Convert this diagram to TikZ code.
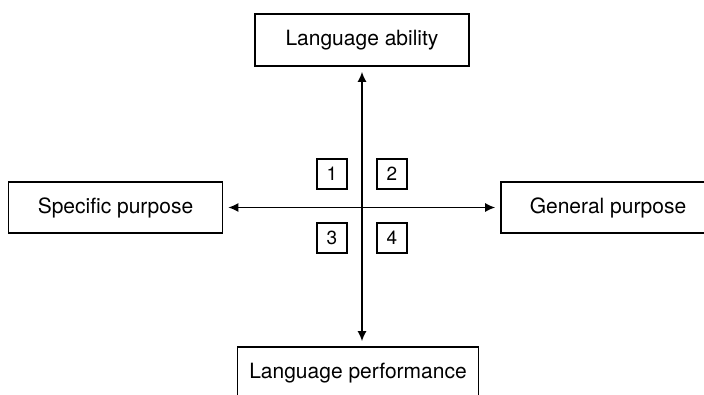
\documentclass[tikz,border=0pt]{standalone}
\usepackage{fontspec}
\setmainfont{TeX Gyre Heros}
\usetikzlibrary{arrows.meta}
\tikzset{
	bigbox/.style={draw, line width=1.6pt, minimum width=214pt, minimum height=52pt, inner sep=0pt, font=\fontsize{21}{25}\selectfont},
	numbox/.style={draw, line width=1.4pt, minimum width=30pt, minimum height=30pt, inner sep=0pt, font=\fontsize{19}{22}\selectfont},
	axis/.style={line width=1.5pt, {Latex[length=10pt,width=9pt]}-{Latex[length=10pt,width=9pt]}, shorten <=5pt, shorten >=5pt}
}

\begin{document}
\begin{tikzpicture}[x=1pt, y=-1pt]
			%%%%% START %%%%%
			\useasboundingbox (0, 0) rectangle (704, 395);
			\clip (0, 0) rectangle (704, 395);
			
			\node[bigbox] (ability) at (362, 40) {Language ability};
			\node[bigbox, minimum width=241pt] (performance) at (358, 373) {Language performance};
			\node[bigbox, minimum height=51pt] (specific) at (115.5, 207.5) {Specific purpose};
			\node[bigbox, minimum height=51pt] (general) at (608, 207.5) {General purpose};
			
			\draw[axis] (specific.east) -- (general.west);
			\draw[axis] (ability.south) -- (ability.south |- performance.north);
			
			\node[numbox] (q1) at (332, 174) {1};
			\node[numbox] (q2) at (392, 174) {2};
			\node[numbox] (q3) at (332, 238) {3};
			\node[numbox] (q4) at (392, 238) {4};
			
			%%%%% END %%%%%
		\end{tikzpicture}
\end{document}
